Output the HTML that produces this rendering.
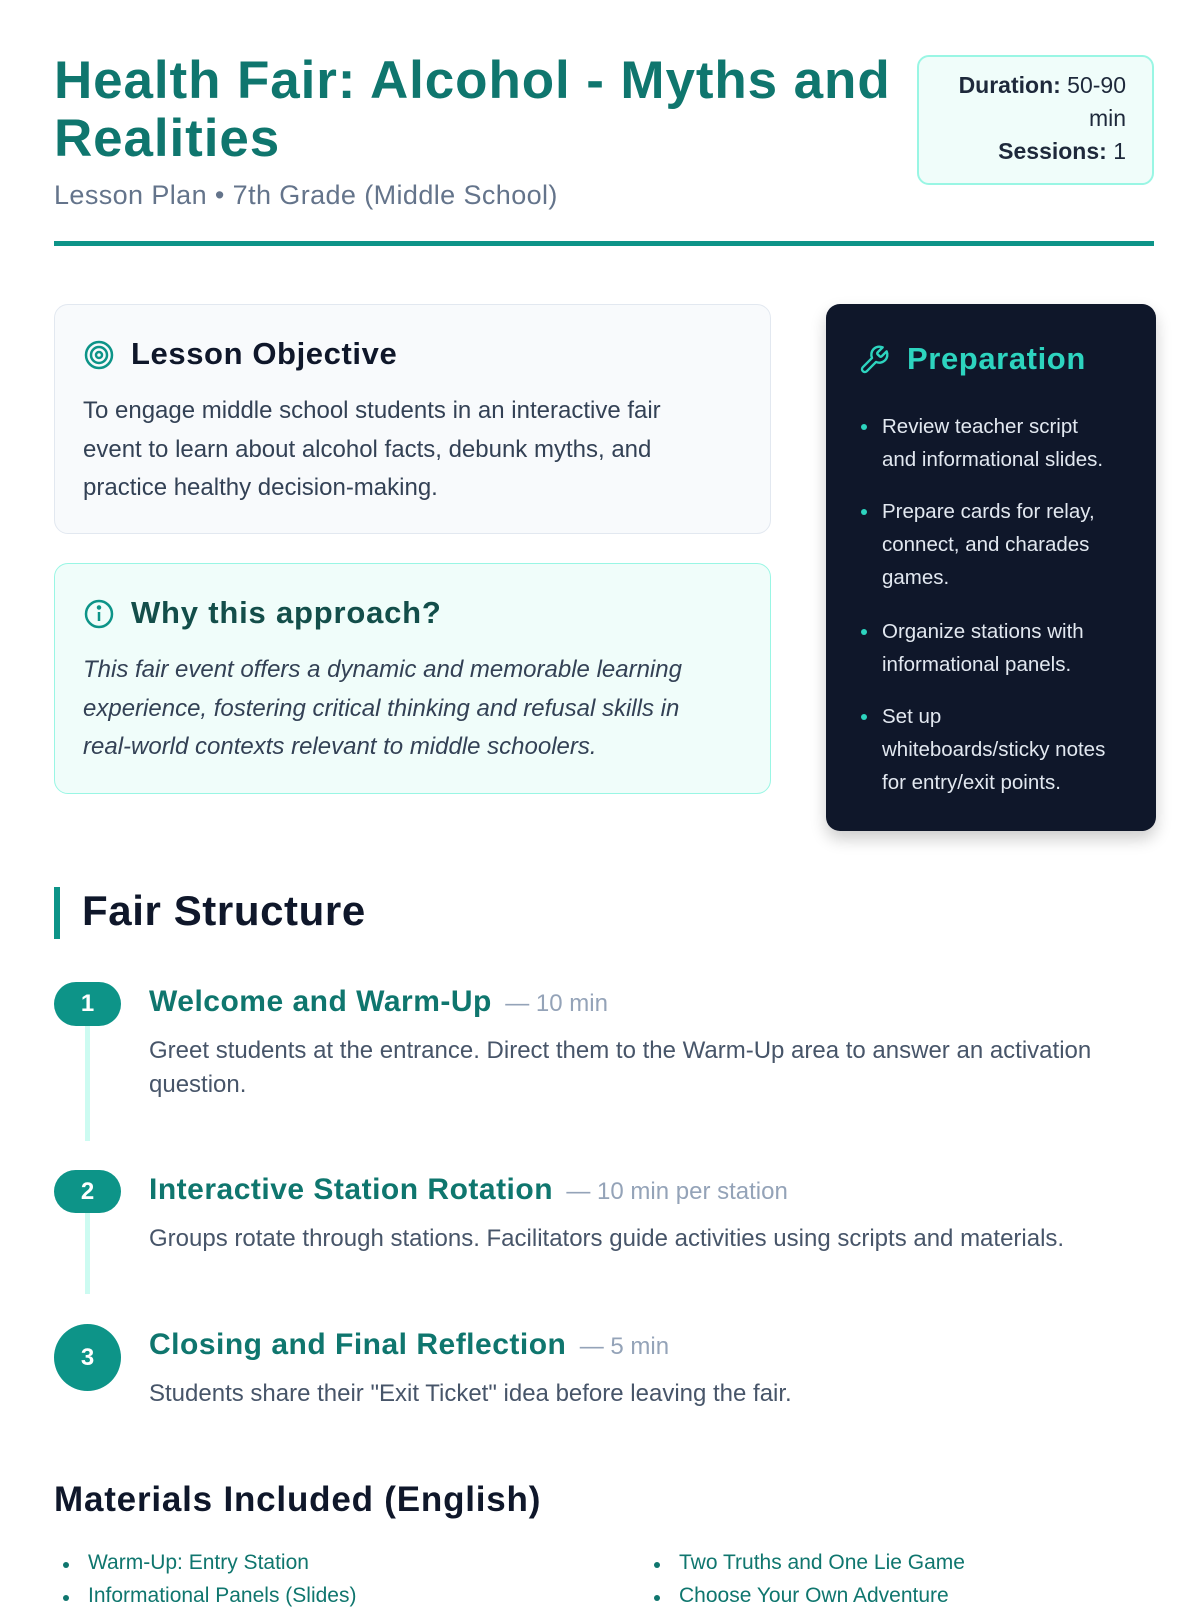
<!DOCTYPE html>
<html><head><meta charset="utf-8"><style>
*{margin:0;padding:0;box-sizing:border-box}
body{width:1200px;height:1600px;background:#fff;font-family:"Liberation Sans",sans-serif;position:relative;overflow:hidden;color:#334155}
.a{position:absolute;white-space:nowrap}
h1{position:absolute;left:54px;top:52px;font-size:53px;line-height:58px;color:#0f766e;font-weight:bold;letter-spacing:0.9px}
.card{position:absolute;border-radius:14px}
.ttl{font-weight:bold;color:#0f766e;font-size:30px;letter-spacing:0.5px}
.dur{color:#94a3b8;font-size:24px}
.desc{font-size:24px;color:#475569;line-height:34px}
.pill{position:absolute;left:54px;width:67px;background:#0d9488;color:#fff;font-weight:bold;font-size:24px;text-align:center}
.vl{position:absolute;left:85px;width:5px;background:#ccfbf1}
.pl li{position:absolute;left:882px;font-size:20.5px;line-height:33px;color:#e2e8f0;list-style:none;white-space:nowrap}
.dot{position:absolute;width:6px;height:6px;border-radius:50%;background:#2dd4bf}
.m{position:absolute;font-size:21px;color:#0f766e;white-space:nowrap}
.md{position:absolute;width:6px;height:6px;border-radius:50%;background:#0f766e}
</style></head><body>
<h1>Health Fair: Alcohol - Myths and<br>Realities</h1>
<div class="a" style="left:54px;top:180px;font-size:27px;letter-spacing:0.4px;color:#64748b">Lesson Plan • 7th Grade (Middle School)</div>
<div class="card" style="left:917px;top:55px;width:237px;height:130px;background:#f0fdfa;border:2px solid #99f6e4;border-radius:12px;text-align:right;padding:12px 26px 0 0;font-size:23px;line-height:33px;color:#1e293b"><b>Duration:</b> 50-90<br>min<br><b>Sessions:</b> 1</div>
<div class="a" style="left:54px;top:241px;width:1100px;height:5px;background:#0d9488"></div>

<div class="card" style="left:54px;top:304px;width:717px;height:230px;background:#f8fafc;border:1.5px solid #e2e8f0"></div>
<svg class="a" style="left:83px;top:339px" width="32" height="32" viewBox="0 0 32 32" fill="none" stroke="#0d9488" stroke-width="2.5"><circle cx="16" cy="16" r="13"/><circle cx="16" cy="16" r="8"/><circle cx="16" cy="16" r="3"/></svg>
<div class="a" style="left:131px;top:336px;font-size:31px;letter-spacing:0.6px;font-weight:bold;color:#0f172a">Lesson Objective</div>
<div class="a" style="left:83px;top:392px;font-size:24px;line-height:38.5px;color:#334155;white-space:normal;width:625px">To engage middle school students in an interactive fair event to learn about alcohol facts, debunk myths, and practice healthy decision-making.</div>

<div class="card" style="left:54px;top:563px;width:717px;height:231px;background:#f0fdfa;border:1.5px solid #99f6e4"></div>
<svg class="a" style="left:83px;top:598px" width="32" height="32" viewBox="0 0 32 32" fill="none" stroke="#0d9488" stroke-width="2.5"><circle cx="16" cy="16" r="13"/><line x1="16" y1="14" x2="16" y2="23"/><circle cx="16" cy="9.5" r="1" fill="#0d9488"/></svg>
<div class="a" style="left:131px;top:595px;font-size:31px;letter-spacing:0.8px;font-weight:bold;color:#134e4a">Why this approach?</div>
<div class="a" style="left:83px;top:651px;font-size:24px;line-height:38.5px;color:#334155;font-style:italic;white-space:normal;width:650px">This fair event offers a dynamic and memorable learning experience, fostering critical thinking and refusal skills in real-world contexts relevant to middle schoolers.</div>

<div class="card" style="left:826px;top:304px;width:330px;height:527px;background:#0f172a;box-shadow:0 8px 16px rgba(0,0,0,.2)"></div>
<svg class="a" style="left:858px;top:344px" width="32" height="32" viewBox="0 0 24 24" fill="none" stroke="#2dd4bf" stroke-width="1.8" stroke-linecap="round" stroke-linejoin="round"><path d="M14.7 6.3a1 1 0 0 0 0 1.4l1.6 1.6a1 1 0 0 0 1.4 0l3.77-3.77a6 6 0 0 1-7.94 7.940l-6.91 6.91a2.12 2.12 0 0 1-3-3l6.91-6.91a6 6 0 0 1 7.94-7.94l-3.76 3.76z"/></svg>
<div class="a" style="left:907px;top:341px;font-size:31px;letter-spacing:0.6px;font-weight:bold;color:#2dd4bf">Preparation</div>
<ul class="pl">
<li style="top:410px">Review teacher script<br>and informational slides.</li>
<li style="top:495px">Prepare cards for relay,<br>connect, and charades<br>games.</li>
<li style="top:615px">Organize stations with<br>informational panels.</li>
<li style="top:700px">Set up<br>whiteboards/sticky notes<br>for entry/exit points.</li>
</ul>
<div class="dot" style="left:861px;top:424px"></div>
<div class="dot" style="left:861px;top:509px"></div>
<div class="dot" style="left:861px;top:629px"></div>
<div class="dot" style="left:861px;top:714px"></div>

<div class="a" style="left:54px;top:887px;width:6px;height:52px;background:#0d9488"></div>
<div class="a" style="left:82px;top:887px;font-size:42px;letter-spacing:0.6px;font-weight:bold;color:#0f172a">Fair Structure</div>

<div class="vl" style="top:1026px;height:115px"></div>
<div class="pill" style="top:982px;height:44px;line-height:44px;border-radius:22px">1</div>
<div class="a" style="left:149px;top:985px"><span class="ttl">Welcome and Warm-Up</span>&nbsp;&nbsp; <span class="dur">— 10 min</span></div>
<div class="a desc" style="left:149px;top:1034px;white-space:normal;width:990px">Greet students at the entrance. Direct them to the Warm-Up area to answer an activation question.</div>

<div class="vl" style="top:1212px;height:82px"></div>
<div class="pill" style="top:1170px;height:43px;line-height:43px;border-radius:22px">2</div>
<div class="a" style="left:149px;top:1173px"><span class="ttl">Interactive Station Rotation</span>&nbsp;&nbsp; <span class="dur">— 10 min per station</span></div>
<div class="a desc" style="left:149px;top:1222px">Groups rotate through stations. Facilitators guide activities using scripts and materials.</div>

<div class="pill" style="top:1324px;height:67px;line-height:67px;border-radius:50%">3</div>
<div class="a" style="left:149px;top:1328px"><span class="ttl">Closing and Final Reflection</span>&nbsp;&nbsp; <span class="dur">— 5 min</span></div>
<div class="a desc" style="left:149px;top:1377px">Students share their "Exit Ticket" idea before leaving the fair.</div>

<div class="a" style="left:54px;top:1480px;font-size:35px;letter-spacing:0.8px;font-weight:bold;color:#0f172a">Materials Included (English)</div>
<div class="md" style="left:63px;top:1562px"></div><div class="m" style="left:88px;top:1551px">Warm-Up: Entry Station</div>
<div class="md" style="left:63px;top:1595px"></div><div class="m" style="left:88px;top:1584px">Informational Panels (Slides)</div>
<div class="md" style="left:654px;top:1562px"></div><div class="m" style="left:679px;top:1551px">Two Truths and One Lie Game</div>
<div class="md" style="left:654px;top:1595px"></div><div class="m" style="left:679px;top:1584px">Choose Your Own Adventure</div>
</body></html>
